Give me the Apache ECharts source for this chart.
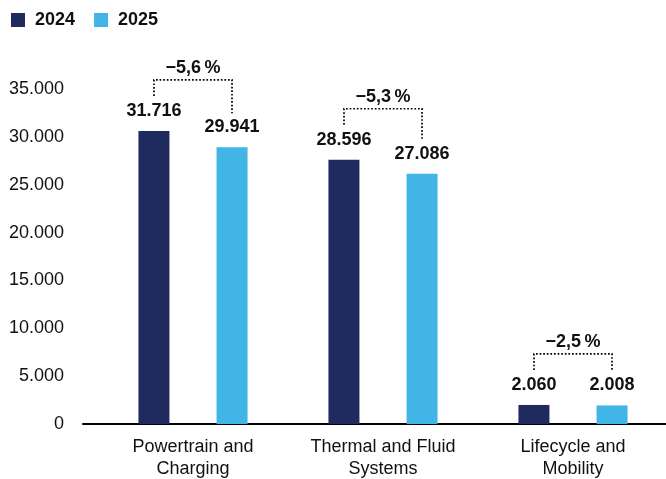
<!DOCTYPE html>
<html><head><meta charset="utf-8">
<script src="https://cdn.jsdelivr.net/npm/echarts@6/dist/echarts.min.js"></script>
<style>html,body{margin:0;padding:0;background:#fff}#c{width:666px;height:479px}</style>
</head><body><div id="c"></div>
<script>
var categories = ['Powertrain and\nCharging', 'Thermal and Fluid\nSystems', 'Lifecycle and\nMobility'];
var seriesNames = ['2024', '2025'];
var values2024 = [31716, 28596, 2060];
var values2025 = [29941, 27086, 2008];
var changeLabels = ['\u22125,6\u2009%', '\u22125,3\u2009%', '\u22122,5\u2009%'];
var yTickValues = [0, 5000, 10000, 15000, 20000, 25000, 30000, 35000];

var FONT = "'Liberation Sans', Arial, Helvetica, sans-serif";
var DARK = '#1f2a5e', LIGHT = '#41b6e6', TXT = '#111111';
function fmt(v){ return String(Math.round(v)).replace(/\B(?=(\d{3})+(?!\d))/g, '.'); }

var chart = echarts.init(document.getElementById('c'), null, {renderer:'canvas'});
var bracketData = categories.map(function(c, i){ return [i, values2024[i], values2025[i]]; });

chart.setOption({
  animation: false,
  backgroundColor: '#ffffff',
  textStyle: { fontFamily: FONT },
  legend: {
    left: 6, top: 6, itemWidth: 14, itemHeight: 14, itemGap: 19, icon: 'rect',
    data: seriesNames,
    textStyle: { fontFamily: FONT, fontSize: 18, fontWeight: 'bold', color: TXT, padding: [0,0,0,5] }
  },
  grid: [
    { left: 83, right: 0, top: 89, bottom: 55, containLabel: false, outerBoundsMode: 'none' },
    { left: 98, right: -2, top: 89, bottom: 55, containLabel: false, outerBoundsMode: 'none' }
  ],
  xAxis: [
    { type: 'category', gridIndex: 0, data: categories,
      axisLine: { show: true, lineStyle: { color: '#000', width: 2 } },
      axisTick: { show: false }, axisLabel: { show: false }, splitLine: { show: false } },
    { type: 'category', gridIndex: 1, data: categories,
      axisLine: { show: false }, axisTick: { show: false },
      axisLabel: { show: true, margin: 12, fontFamily: FONT, fontSize: 18, color: TXT, lineHeight: 22 } }
  ],
  yAxis: [
    { type: 'value', gridIndex: 0, min: yTickValues[0], max: yTickValues[yTickValues.length-1], interval: yTickValues[1]-yTickValues[0],
      axisLine: { show: false }, axisTick: { show: false }, splitLine: { show: false },
      axisLabel: { margin: 19, fontFamily: FONT, fontSize: 18, color: TXT, formatter: function(v){ return fmt(v); } } },
    { type: 'value', gridIndex: 1, min: 0, max: 36250, show: false, splitLine: { show: false } }
  ],
  series: [
    { name: seriesNames[0], type: 'bar', xAxisIndex: 1, yAxisIndex: 1, data: values2024,
      barWidth: 31, barGap: '152%', itemStyle: { color: DARK },
      label: { show: true, position: 'top', distance: 11, fontFamily: FONT, fontSize: 18, fontWeight: 'bold', color: TXT,
        formatter: function(p){ return fmt(p.value); } } },
    { name: seriesNames[1], type: 'bar', xAxisIndex: 1, yAxisIndex: 1, data: values2025,
      barWidth: 31, barGap: '152%', itemStyle: { color: LIGHT },
      label: { show: true, position: 'top', distance: 11, fontFamily: FONT, fontSize: 18, fontWeight: 'bold', color: TXT,
        formatter: function(p){ return fmt(p.value); } } },
    { type: 'custom', xAxisIndex: 1, yAxisIndex: 1, data: bracketData, clip: false, silent: true, z: 5,
      encode: { x: 0, y: [1, 2] },
      renderItem: function(params, api){
        var idx = api.value(0);
        var pd = api.coord([idx, api.value(1)]);
        var pl = api.coord([idx, api.value(2)]);
        var cx = pd[0];
        var xl = cx - 39, xr = cx + 39;
        var top = Math.min(pd[1], pl[1]) - 51;
        var legL = pd[1] - 35, legR = pl[1] - 34;
        return { type: 'group', children: [
          { type: 'polyline', shape: { points: [[xl, legL], [xl, top], [xr, top], [xr, legR]] },
            style: { stroke: '#000', lineWidth: 1.7, lineDash: [1.7, 1.9], fill: null } },
          { type: 'text', x: cx, y: top - 12,
            style: { text: changeLabels[params.dataIndex], fill: TXT, font: 'bold 18px ' + FONT, align: 'center', verticalAlign: 'middle' } }
        ]};
      }
    }
  ]
});
</script></body></html>
